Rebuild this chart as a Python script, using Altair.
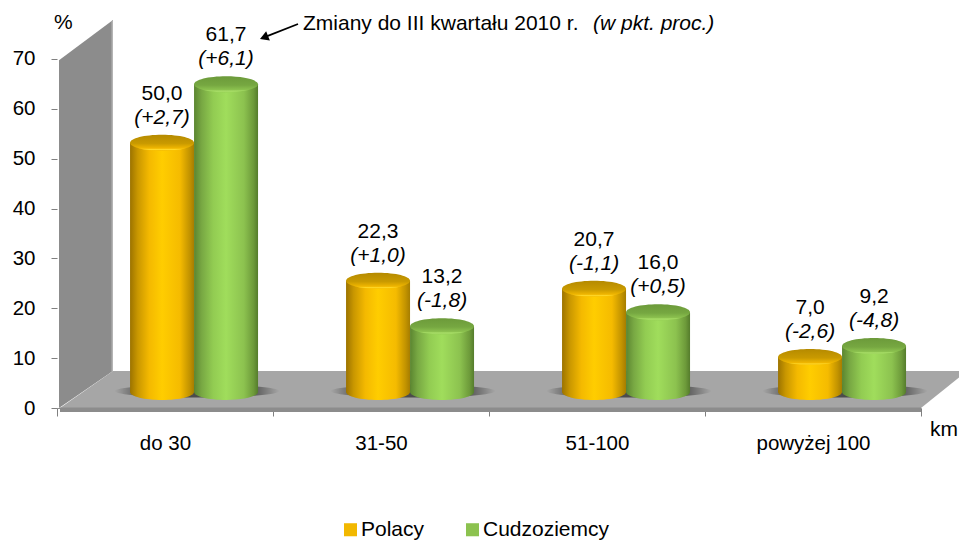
import altair as alt
import pandas as pd

categories = ["do 30", "31-50", "51-100", "powyżej 100"]
series_names = ["Polacy", "Cudzoziemcy"]
polacy = [50.0, 22.3, 20.7, 7.0]
cudzoziemcy = [61.7, 13.2, 16.0, 9.2]
zmiany_polacy = ["(+2,7)", "(+1,0)", "(-1,1)", "(-2,6)"]
zmiany_cudzoziemcy = ["(+6,1)", "(-1,8)", "(+0,5)", "(-4,8)"]
y_ticks = [0, 10, 20, 30, 40, 50, 60, 70]

rows = []
for i, c in enumerate(categories):
    rows.append(dict(cat=c, s="Polacy", v=polacy[i], lab=f"{polacy[i]:.1f}".replace(".", ","), chg=zmiany_polacy[i]))
    rows.append(dict(cat=c, s="Cudzoziemcy", v=cudzoziemcy[i], lab=f"{cudzoziemcy[i]:.1f}".replace(".", ","), chg=zmiany_cudzoziemcy[i]))
df = pd.DataFrame(rows)
df["zero"] = 0

FONT = "Liberation Sans"
FS = 20.5
FT = 21
W = 902
H = 398
Y_TOP = 79.8

yscale = alt.Scale(domain=[0, Y_TOP], range=[H, 0], nice=False, zero=False)
xdeco = alt.Scale(domain=[0, W], range=[0, W], nice=False, zero=False)
xband = alt.Scale(type="band", domain=categories, range=[0, 864], paddingInner=0, paddingOuter=0)
xoff = alt.Scale(type="band", domain=series_names, paddingInner=0, paddingOuter=0.6875, align=0.83)
yaxis = alt.Axis(title=None, values=y_ticks, labelFont=FONT, labelFontSize=FS, labelColor="black",
                 tickColor="#808080", tickSize=6, domain=False, grid=False, labelPadding=16)

X = alt.X("cat:N", scale=xband, sort=categories,
          axis=alt.Axis(title=None, tickBand="extent", labelAngle=0, labelFont=FONT, labelFontSize=FS,
                        labelColor="black", tickColor="#808080", domainColor="#8c8c8c", tickSize=8,
                        labelPadding=17, labelFlush=False, labelOverlap=False, grid=False))
XO = alt.XOffset("s:N", scale=xoff)
def yenc(field):
    return alt.Y(field, scale=yscale, axis=yaxis)
Y_plain = yenc("v:Q")
X_plain = alt.X("cat:N", scale=xband, sort=categories, axis=None)

OR_H = [(0, "#9c7300"), (0.12, "#c99700"), (0.3, "#f4b900"), (0.5, "#ffcd00"), (0.78, "#f5bb00"), (0.93, "#c29300"), (1, "#a67d00")]
GR_H = [(0, "#5b8530"), (0.12, "#78a843"), (0.3, "#92cc52"), (0.5, "#a0dd5c"), (0.78, "#8cc24f"), (0.93, "#6d9a3a"), (1, "#557c2c")]
OR_V = [(0, "#b58a00"), (0.55, "#c99a00"), (0.85, "#f0b600"), (0.93, "#ffd92a"), (1, "#f4bb00")]
GR_V = [(0, "#6c9a3a"), (0.55, "#76a741"), (0.85, "#8cc24f"), (0.93, "#aee46c"), (1, "#90c852")]

def grad(stops, vertical=False):
    return alt.Gradient(gradient="linear", x1=0, x2=0 if vertical else 1, y1=0, y2=1 if vertical else 0,
                        stops=[alt.GradientStop(offset=o, color=c) for o, c in stops])

ELL = "M-1,0A1,0.25 0 1,1 1,0A1,0.25 0 1,1 -1,0Z"
SHD = "M-1,0A1,0.08 0 1,1 1,0A1,0.08 0 1,1 -1,0Z"
BAR_SIZE = 64 * 64
LIFT = -16

def cyl(name, gh, gv):
    d = alt.Chart(df).transform_filter(alt.datum.s == name)
    base = d.mark_point(shape=ELL, size=BAR_SIZE, filled=True, opacity=1, stroke=None, fill=grad(gh), yOffset=LIFT).encode(
        x=X_plain, xOffset=XO, y=yenc("zero:Q"))
    body = d.mark_bar(fill=grad(gh), yOffset=LIFT, y2Offset=LIFT).encode(
        x=X_plain, xOffset=XO, y=Y_plain, y2=alt.Y2("zero:Q"))
    top = d.mark_point(shape=ELL, size=BAR_SIZE, filled=True, opacity=1, stroke=None, fill=grad(gv, True), yOffset=LIFT).encode(
        x=X_plain, xOffset=XO, y=Y_plain)
    return [base, body, top]

# wall and floor of the 3D box
wall = pd.DataFrame({"x": [2, 56], "top": [69.7, 77.8], "bot": [0, 7.4]})
wall_edge = pd.DataFrame({"x": [54.5, 56], "top": [77.6, 77.8], "bot": [7.2, 7.4]})
floor = pd.DataFrame({"x": [3, 56, 864, 910], "top": [0, 7.4, 7.4, 7.4], "bot": [0, 0, 0, 7.4]})
strip = pd.DataFrame({"x": [3, 864], "top": [0.1, 0.1], "bot": [-0.8, -0.8]})

def area(d, color):
    return alt.Chart(d).mark_area(color=color, line=False, interpolate="linear").encode(
        x=alt.X("x:Q", scale=xdeco, axis=None),
        y=yenc("top:Q"), y2="bot:Q")

shadow_d = pd.DataFrame({"cat": categories, "zero": [0, 0, 0, 0]})
shadow = alt.Chart(shadow_d).mark_point(
    shape=SHD, size=165 * 165, filled=True, opacity=1, stroke=None,
    fill=alt.RadialGradient(gradient="radial", stops=[
        alt.GradientStop(offset=0, color="#4a4a4a"), alt.GradientStop(offset=0.7, color="#5a5a5a"),
        alt.GradientStop(offset=1, color="#a6a6a6")]),
    xOffset=32, yOffset=-17).encode(x=X_plain, y=yenc("zero:Q"))

val_text = alt.Chart(df).mark_text(font=FONT, fontSize=FT, color="black", yOffset=LIFT, dy=-49).encode(
    x=X_plain, xOffset=XO, y=Y_plain, text="lab:N")
chg_text = alt.Chart(df).mark_text(font=FONT, fontSize=FT, fontStyle="italic", color="black", yOffset=LIFT, dy=-25).encode(
    x=X_plain, xOffset=XO, y=Y_plain, text="chg:N")

# annotations
def note(x, y, text, align="left", style="normal"):
    d = pd.DataFrame({"x": [x], "y": [y], "t": [text]})
    return alt.Chart(d).mark_text(font=FONT, fontSize=FT, align=align, color="black", fontStyle=style).encode(
        x=alt.X("x:Q", scale=xdeco, axis=None), y=yenc("y:Q"), text="t:N")

ann = [
    note(-3, 77.1, "%", "left"),
    note(901, -4.4, "km", "right"),
    note(246, 77, "Zmiany do III kwartału 2010 r.", "left"),
    note(536, 77, "(w pkt. proc.)", "left", "italic"),
]
arrow_d = pd.DataFrame({"x": [207], "x2": [241], "y": [74.3], "y2": [77]})
arrow_line = alt.Chart(arrow_d).mark_rule(color="black", strokeWidth=1.8).encode(
    x=alt.X("x:Q", scale=xdeco, axis=None), x2="x2:Q",
    y=yenc("y:Q"), y2="y2:Q")
arrow_head = alt.Chart(arrow_d).mark_point(shape="triangle-up", size=100, filled=True, opacity=1, color="black", angle=248).encode(
    x=alt.X("x:Q", scale=xdeco, axis=None), y=yenc("y:Q"))

legend_layer = alt.Chart(df).mark_square(size=0, opacity=1).encode(
    x=X, y=Y_plain,
    color=alt.Color("s:N", scale=alt.Scale(domain=series_names, range=["#f2b800", "#8cc24f"]),
                    legend=alt.Legend(title=None, orient="none", legendX=283, legendY=509, direction="horizontal",
                                      columns=2, symbolType="square", symbolSize=170, labelFont=FONT, labelFontSize=FT,
                                      labelColor="black", columnPadding=37, labelOffset=0, symbolOpacity=1, symbolStrokeWidth=0)))

layers = [legend_layer, area(wall, "#8c8c8c"), area(wall_edge, "#b4b4b4"), area(floor, "#a6a6a6"), area(strip, "#8c8c8c"), shadow]
layers += cyl("Polacy", OR_H, OR_V) + cyl("Cudzoziemcy", GR_H, GR_V)
layers += [val_text, chg_text] + ann + [arrow_line, arrow_head]

chart = alt.layer(*layers).resolve_scale(x="independent").properties(
    width=W, height=H, padding={"left": 49, "top": 2, "right": 0, "bottom": 133},
    autosize=alt.AutoSizeParams(type="none", contains="content")
).configure_view(stroke=None)

chart.save("out.html", embed_options={"renderer": "svg", "actions": False})
